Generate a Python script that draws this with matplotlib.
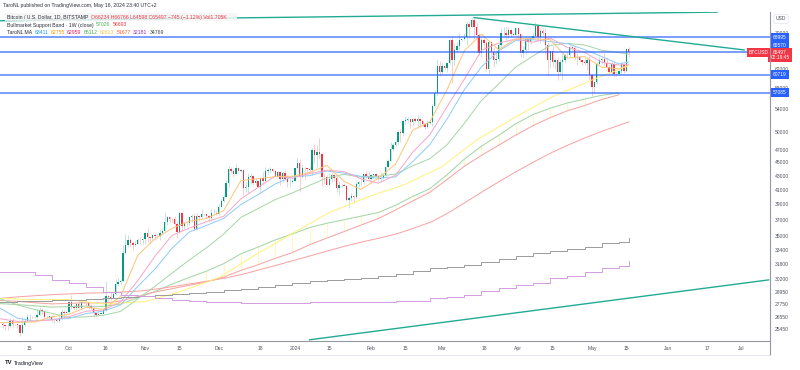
import numpy as np
import pandas as pd
import matplotlib
matplotlib.use('Agg')
import matplotlib.pyplot as plt
import matplotlib.dates as mdates
from matplotlib.ticker import NullLocator
from matplotlib.lines import Line2D
from matplotlib.patches import Rectangle

plt.rcParams['font.family'] = ['Liberation Sans', 'DejaVu Sans']

# daily BTCUSD candles (Bitstamp), 2023-09-04 .. 2024-05-16, open = previous close
first_open = 25970
closes = [
    # Sep 4-30
    25820, 25780, 25750, 26240, 25910, 25900, 25840, 25160, 25840, 26230, 26530, 26600, 26570, 26530,
    26760, 27210, 27130, 26570, 26580, 26580, 26250, 26300, 26220, 26370, 27030, 26910, 26970,
    # Oct
    27990, 27500, 27430, 27790, 27410, 27930, 27960, 27930, 27590, 27390, 26880, 26760, 26860, 26860,
    27160, 28510, 28420, 28330, 28720, 29680, 29910, 29990, 33080, 33900, 34500, 34150, 33900, 34090,
    34530, 34500, 34650,
    # Nov
    35420, 34940, 34730, 35080, 35050, 35040, 35430, 35650, 36700, 37320, 37140, 37070, 36490, 35550,
    37880, 36170, 36600, 36590, 37390, 37480, 35800, 37440, 37310, 37720, 37800, 37480, 37250, 37830,
    37860, 37720,
    # Dec
    38690, 39480, 39980, 41990, 44080, 43770, 43290, 44170, 43720, 43790, 41240, 41450, 42890, 43020,
    41940, 42260, 41360, 42650, 42270, 43660, 43860, 43990, 43720, 43010, 43600, 42520, 43440, 42580,
    42070, 42140, 42280,
    # Jan
    44180, 44960, 42850, 44180, 44160, 43970, 43930, 46970, 46120, 46630, 46370, 42850, 42840, 41730,
    42510, 43150, 42740, 41280, 41620, 41660, 41570, 39530, 39870, 40100, 39930, 41820, 42120, 42030,
    43300, 42950, 42580,
    # Feb
    43080, 43190, 43000, 42580, 42660, 43090, 44330, 45290, 47150, 47750, 48290, 49960, 49700, 51800,
    51930, 52140, 51650, 52140, 51780, 52260, 51850, 51300, 50730, 51570, 51730, 54480, 57080, 62500,
    61200,
    # Mar
    62440, 62030, 63170, 68330, 63800, 66110, 66930, 68300, 68500, 69020, 72120, 71480, 73100, 71420,
    69440, 65310, 68390, 67610, 61940, 67850, 65500, 63800, 64100, 67200, 69950, 69990, 69460, 70770,
    69880, 69630, 71290,
    # Apr
    69670, 65460, 65960, 68490, 67820, 68900, 69360, 71620, 69140, 70580, 70050, 67190, 63910, 65730,
    63450, 63790, 61290, 63470, 63810, 64940, 64930, 66840, 66410, 64290, 64480, 63750, 63420, 63110,
    63840, 60610,
    # May 1-16
    58250, 59120, 62890, 63890, 64030, 63160, 62330, 61190, 63070, 60790, 60800, 61450, 62900, 61550,
    66234, 65497,
]
highs = [
    26100, 25880, 26030, 26430, 26450, 25950, 26000, 25880, 26540, 26400, 26800, 26850, 26670, 26620,
    27420, 27480, 27380, 27160, 26740, 26640, 26730, 26440, 26390, 26820, 27280, 27230, 27090,
    28060, 28580, 27680, 27830, 28120, 28280, 28030, 28100, 27990, 27740, 27480, 26950, 27100, 26970,
    27290, 30000, 28620, 28960, 28930, 30200, 30340, 30200, 34000, 35200, 35100, 34800, 34470, 34460,
    34740, 34850, 34720,
    35560, 35980, 34950, 35280, 35380, 35270, 35900, 35990, 37970, 37520, 37430, 37240, 37430, 36770,
    37960, 37960, 36850, 36830, 37500, 37740, 37860, 37870, 37640, 38420, 37890, 37830, 37570, 38380,
    38420, 38170,
    38990, 39700, 40220, 42400, 44490, 44300, 44040, 44700, 44370, 44040, 43790, 42090, 43420, 43400,
    43090, 42740, 42430, 42740, 43490, 44280, 44210, 44380, 44000, 43910, 43780, 43620, 43670, 43800,
    43140, 42620, 42890,
    44200, 45880, 45500, 44770, 44360, 44200, 44480, 47200, 47890, 47690, 48970, 46500, 43250, 43050,
    43400, 43580, 43200, 42930, 42200, 41860, 41900, 41680, 40120, 40520, 40280, 42220, 42200, 42840,
    43320, 43880, 43720,
    43260, 43480, 43380, 43120, 43500, 43390, 44370, 45610, 48200, 48150, 48580, 50340, 50370, 52040,
    52820, 52570, 52200, 52350, 52490, 52980, 52380, 52020, 51540, 51950, 51950, 54900, 57550, 63950,
    63680,
    63130, 62430, 63230, 68500, 69000, 67620, 67920, 69940, 68620, 70000, 72850, 72920, 73650, 73780,
    72400, 70000, 68870, 68900, 68100, 68100, 68200, 66650, 65970, 67600, 71120, 71500, 71690, 71500,
    70900, 70300, 71330,
    71300, 69650, 66900, 69290, 68720, 69000, 70300, 72730, 71750, 71170, 71250, 71250, 67940, 65900,
    66850, 64360, 64470, 64090, 65450, 65380, 65680, 67230, 67200, 67070, 65270, 64780, 63900, 64340,
    64220, 64680,
    60960, 59420, 63300, 64480, 64540, 65480, 64390, 62990, 63380, 63400, 61430, 61800, 63430, 63100,
    66470, 66766,
]
lows = [
    25600, 25400, 25380, 25620, 25650, 25800, 25580, 24900, 25130, 25760, 26130, 26230, 26480, 26420,
    26390, 26700, 26860, 26370, 26490, 26510, 26140, 25990, 26100, 26110, 26330, 26670, 26890,
    26950, 27330, 27160, 27260, 27340, 27200, 27850, 27700, 27300, 27290, 26560, 26560, 26710, 26810,
    26840, 27120, 28090, 28150, 28190, 28610, 29470, 29680, 29880, 32900, 33700, 33700, 33400, 33890,
    34040, 34080, 34070,
    34110, 34340, 34120, 34580, 34550, 34760, 34540, 35120, 35560, 36360, 36760, 36730, 36350, 34780,
    35360, 35620, 35880, 36200, 36400, 36760, 35690, 35760, 36900, 37270, 37570, 37180, 36760, 36870,
    37620, 37560,
    37610, 38660, 39280, 39960, 41420, 43380, 42870, 43090, 43600, 43580, 40240, 40690, 40610, 41800,
    41690, 41660, 41250, 40530, 41800, 42190, 43320, 43430, 43590, 42780, 42770, 41650, 42100, 42330,
    41320, 41540, 41980,
    42170, 44150, 40750, 42650, 42460, 43410, 43600, 43180, 44850, 44330, 45630, 41500, 41750, 41720,
    41720, 42050, 42200, 40680, 40280, 41440, 41500, 39430, 38550, 39490, 39260, 39830, 41400, 41650,
    41810, 42690, 42290,
    41880, 42580, 42880, 42270, 42270, 42590, 42780, 44340, 45250, 46870, 47560, 47720, 48310, 49270,
    51330, 51590, 50650, 51150, 51680, 50640, 50850, 50990, 50520, 50600, 51290, 50910, 54450, 56700,
    60390,
    60800, 61640, 61330, 62900, 59100, 62780, 65560, 66140, 68000, 68250, 67230, 68800, 71350, 68600,
    65600, 64850, 64600, 66620, 61560, 60800, 64650, 62300, 63030, 63700, 66550, 69300, 68400, 68900,
    69100, 69570, 69580,
    68180, 64550, 64520, 65100, 66050, 67470, 68850, 69100, 68260, 67570, 69580, 65090, 60660, 62150,
    62370, 61820, 59700, 60840, 59600, 63150, 64280, 64580, 65890, 63810, 62780, 63350, 62800, 62840,
    61800, 59580,
    56520, 56950, 58830, 62660, 62970, 62730, 62250, 60870, 60640, 60230, 60490, 60630, 60770, 61150,
    61340, 64598,
]

# TaroNL MA lines, read weekly (Sundays 2023-09-03 .. 2024-05-12, then 2024-05-16)
ma_orange = [26050, 26070, 26110, 26570, 26800, 27450, 27260, 28480, 32770, 34690, 35940, 36820, 37160,
             38180, 42290, 42580, 42870, 42930, 43470, 44560, 42200, 41030, 42660, 44730, 50250, 51710,
             57690, 65860, 69710, 66110, 68610, 68650, 68430, 64250, 64600, 62290, 61960, 62755]
ma_pink = [26400, 26160, 26200, 26280, 26590, 27090, 27200, 27950, 30060, 32670, 35090, 35970, 36770,
           37450, 39740, 41320, 42960, 42660, 43330, 43830, 43630, 42550, 41930, 43080, 46600, 49480,
           54450, 59760, 65960, 67630, 68580, 67840, 68800, 66650, 65530, 63360, 62750, 62959]
ma_blue = [27350, 26450, 26180, 26330, 26420, 26870, 27090, 27670, 29470, 31270, 33590, 35490, 36300,
           37180, 38980, 40310, 41820, 42880, 43010, 43700, 43390, 42920, 42650, 42830, 45140, 47850,
           52210, 57660, 62370, 65830, 68260, 68430, 67960, 67520, 66140, 64600, 62980, 63411]
ma_green = [28260, 27680, 27240, 26890, 26510, 26570, 26710, 27070, 28240, 29480, 30850, 32260, 33630,
            35240, 37310, 38450, 39650, 40560, 41610, 42680, 43200, 42810, 42940, 43260, 44490, 45580,
            47810, 51410, 55610, 58820, 62340, 64710, 67100, 67570, 67190, 65990, 65470, 65112]
# weekly step MAs (gray, purple), same dates
ma_gray = [27970, 28000, 28050, 28100, 28150, 28250, 28350, 28450, 28550, 28650, 28740, 28850, 28940,
           29100, 29230, 29430, 29600, 29830, 29980, 30140, 30250, 30350, 30560, 30800, 31080, 31400,
           31510, 31730, 32050, 32380, 32710, 33050, 33270, 33500, 33730, 34200, 34320, 34769]
ma_purple = [31000, 31000, 30660, 30140, 29830, 29400, 28940, 28640, 28500, 28350, 28160, 28050, 27970,
             27930, 27900, 27870, 27870, 27900, 27920, 27940, 27960, 27970, 27990, 28020, 28080, 28350,
             28450, 28640, 29030, 29330, 29630, 29830, 30350, 30560, 30970, 31400, 31620, 32181]

# yellow (100) line
yellow_dates = ['2023-09-03', '2023-09-15', '2023-10-01', '2023-10-15', '2023-11-01', '2023-11-15',
                '2023-12-01', '2023-12-15', '2024-01-01', '2024-01-15', '2024-02-01', '2024-02-15',
                '2024-03-01', '2024-03-15', '2024-04-01', '2024-04-15', '2024-05-01', '2024-05-16']
ma_yellow = [28300, 28180, 28180, 27760, 27980, 28930, 30370, 32680, 35490, 37940, 40150, 41760,
             44380, 48580, 52830, 56330, 59613, 62613]

# red (200) line, Mondays 2023-09-04 .. 2024-05-13, then 2024-05-16
ma_red = [28320, 28460, 28570, 28670, 28740, 28810, 28850, 28920, 29020, 29230, 29480, 29760, 30040,
          30350, 30740, 31230, 31720, 32250, 32770, 33330, 33860, 34350, 34800, 35320, 36020, 36790,
          37980, 39380, 40850, 42320, 43790, 45220, 46620, 47880, 49070, 50190, 51240, 51677]

# Bullmarket Support Band (1W), Sundays 2023-09-03 .. 2024-05-12
band_ema = [27800, 27700, 27590, 27470, 27520, 27560, 27520, 27750, 28360, 28970, 29710, 30400, 31050,
            31860, 32940, 33710, 34550, 35250, 36040, 36560, 37010, 37470, 37930, 38880, 40080, 41140,
            43150, 45500, 47580, 49360, 51360, 52990, 54150, 55130, 55860, 56600, 57026]
band_sma = [28100, 28010, 27880, 27770, 27820, 27880, 27840, 28050, 28480, 28920, 29250, 29590, 29940,
            30430, 31130, 31740, 32440, 33090, 33980, 34760, 35540, 36350, 37160, 38260, 39460, 40650,
            42460, 44410, 46100, 47710, 49420, 51020, 52430, 53680, 54640, 55780, 56693]

levels = [68995, 65570, 60719, 57085]
trend_top = (['2023-09-03', '2024-06-21'], [72990, 75170])
trend_down = (['2024-03-14', '2024-07-02'], [73780, 66070])
trend_up = (['2024-01-07', '2024-07-12'], [24570, 30140])

ytick_vals = [70000, 62000, 58000, 54000, 50000, 47000, 45000, 43000, 41000, 39000, 37000, 35000,
              33400, 31800, 30200, 28950, 27750, 26550, 25450]
xtick_dates = ['2023-09-15', '2023-10-01', '2023-10-16', '2023-11-01', '2023-11-15', '2023-12-01',
               '2023-12-18', '2024-01-01', '2024-01-15', '2024-02-01', '2024-02-15', '2024-03-01',
               '2024-03-18', '2024-04-01', '2024-04-15', '2024-05-01', '2024-05-15', '2024-06-01',
               '2024-06-17', '2024-07-01']
xtick_labels = ['15', 'Oct', '16', 'Nov', '15', 'Dec', '18', '2024', '15', 'Feb', '15', 'Mar', '18',
                'Apr', '15', 'May', '15', 'Jun', '17', 'Jul']


def dn(d):
    return mdates.date2num(pd.to_datetime(d).to_pydatetime())


UP, DOWN = '#089981', '#f23645'
TEAL = '#22ab94'
BLUE = '#2962ff'
W, H = 800, 370

fig = plt.figure(figsize=(8, 3.7), dpi=100)
ax = fig.add_axes([0, 29 / H, 770 / W, 329 / H])
ax.set_yscale('log')

# candles
days = dn(pd.date_range('2023-09-04', periods=len(closes), freq='D'))
c = np.array(closes, float)
o = np.array([first_open] + closes[:-1], float)
hi = np.maximum(np.array(highs, float), np.maximum(o, c))
lo = np.minimum(np.array(lows, float), np.minimum(o, c))
cols = np.where(c >= o, UP, DOWN)
ax.vlines(days, lo, hi, colors=cols, lw=0.45, alpha=0.4, zorder=3)
ax.bar(days, np.maximum(np.abs(c - o), 30), bottom=np.minimum(o, c), width=0.55, color=cols,
       lw=0, zorder=4)

# moving averages
week_sun = list(pd.date_range('2023-09-03', '2024-05-12', freq='7D'))
ma_x = dn(week_sun + [pd.Timestamp('2024-05-16')])
band_x = dn(week_sun)
red_x = dn(list(pd.date_range('2023-09-04', '2024-05-13', freq='7D')) + [pd.Timestamp('2024-05-16')])

ax.vlines(band_x, band_sma, band_ema, colors='#fff59d', lw=0.5, zorder=2)
ax.plot(band_x, band_ema, color='#a5d6a7', lw=0.75, zorder=5)
ax.plot(band_x, band_sma, color='#f4a6a6', lw=0.75, zorder=5)
ax.plot(red_x, ma_red, color='#f7a1a1', lw=0.7, zorder=5)
ax.plot(dn(yellow_dates), ma_yellow, color='#fff176', lw=0.7, zorder=5)
ax.plot(ma_x, ma_green, color='#a5d6a7', lw=0.7, zorder=5)
ax.plot(ma_x, ma_blue, color='#90caf9', lw=0.7, zorder=5)
ax.plot(ma_x, ma_pink, color='#f8a5c8', lw=0.7, zorder=5)
ax.plot(ma_x, ma_orange, color='#ffc47a', lw=0.7, zorder=5)
ax.plot(ma_x, ma_gray, color='#9b9b9b', lw=0.7, drawstyle='steps-post', zorder=5)
ax.plot(ma_x, ma_purple, color='#d39ce0', lw=0.7, drawstyle='steps-post', zorder=5)

# drawings
for lv in levels:
    ax.axhline(lv, color=BLUE, lw=1.1, alpha=0.8, zorder=6)
for dts, pr in (trend_top, trend_down, trend_up):
    ax.plot(dn(dts), pr, color=TEAL, lw=1.0, zorder=6)

x0 = dn('2023-10-01')
ax.set_xlim(x0 - 28.106, x0 + 285.54)
ax.set_ylim(24467, 75201)

# axes styling
for s in ['top', 'left', 'right']:
    ax.spines[s].set_visible(False)
ax.spines['bottom'].set_color('#9598a1')
ax.spines['bottom'].set_linewidth(0.8)
ax.yaxis.tick_right()
ax.set_yticks(ytick_vals)
ax.set_yticklabels([str(v) for v in ytick_vals])
ax.yaxis.set_minor_locator(NullLocator())
ax.tick_params(axis='y', length=0, pad=3.6, labelsize=3.6, labelcolor='#50535e')
ax.set_xticks(dn(xtick_dates))
ax.set_xticklabels(xtick_labels)
ax.tick_params(axis='x', length=0, pad=3.6, labelsize=3.6, labelcolor='#50535e')

fig.add_artist(Line2D([770 / W, 770 / W], [1 - 12 / H, 1 - 355 / H], color='#9598a1', lw=0.8))
fig.add_artist(Line2D([0, 770 / W], [1 - 355 / H, 1 - 355 / H], color='#e0e3eb', lw=0.6))

# price scale labels
yx = ax.get_yaxis_transform()
lab = dict(ha='center', va='center', fontsize=3.5, color='white', zorder=10, clip_on=False)
box = dict(boxstyle='square,pad=0.4', ec='none')
ax.annotate('68995', xy=(780 / 770, 68995), xycoords=yx, **lab, bbox=dict(box, fc=BLUE))
ax.annotate('65570', xy=(780 / 770, 65570), xycoords=yx, xytext=(0, 5), textcoords='offset points',
            **lab, bbox=dict(box, fc=BLUE))
ax.annotate('65497\n02:19:45', xy=(780 / 770, 65497), xycoords=yx, xytext=(0, -1.8),
            textcoords='offset points', linespacing=1.1, **lab, bbox=dict(box, fc=DOWN))
ax.annotate('60719', xy=(780 / 770, 60719), xycoords=yx, **lab, bbox=dict(box, fc=BLUE))
ax.annotate('57085', xy=(780 / 770, 57085), xycoords=yx, **lab, bbox=dict(box, fc=BLUE))
ax.annotate('BTCUSD', xy=(759 / 770, 65497), xycoords=yx, **lab, bbox=dict(box, fc=DOWN))
fig.text(781 / W, 1 - 19 / H, 'USD', ha='center', va='center', fontsize=3.6, color='#50535e',
         bbox=dict(boxstyle='round,pad=0.4', fc='white', ec='#e0e3eb', lw=0.5))

# legend rows
fig.canvas.draw()
rend = fig.canvas.get_renderer()


def row(x, y, parts, size=3.7, gap=2.2, weight='normal'):
    for s, col in parts:
        t = fig.text(x / W, 1 - y / H, s, color=col, fontsize=size, va='center', ha='left',
                     fontweight=weight)
        x += t.get_window_extent(rend).width + gap
    return x


fig.add_artist(Rectangle((5 / W, 1 - 21 / H), 232 / W, 7.5 / H, transform=fig.transFigure,
                         fc='#f5f5f5', ec='none', alpha=0.85))
row(3, 6, [('TaroNL published on TradingView.com, May 16, 2024 23:40 UTC+2', '#2a2e39')])
row(7, 17, [('Bitcoin / U.S. Dollar, 1D, BITSTAMP', '#2a2e39'),
            ('O66234 H66766 L64598 C65497 \u2212745 (\u22121.12%) Vol1.705K', DOWN)])
row(7, 25, [('Bullmarket Support Band \u00b7 1W (close)', '#2a2e39'), ('57026', '#4caf50'),
            ('56693', DOWN)])
row(7, 33, [('TaroNL MA', '#2a2e39'), ('63411', '#2196f3'), ('62755', '#ff9800'),
            ('62959', '#e91e63'), ('65112', '#4caf50'), ('62613', '#f9c74f'), ('51677', '#ff5722'),
            ('32181', '#9c27b0'), ('34769', '#434651')])
xe = row(5, 363, [('TV', '#131722')], size=4.2, gap=1.5, weight='bold')
row(xe, 363, [('TradingView', '#131722')], size=3.9)

fig.savefig('out.png', dpi=100, facecolor='white')
